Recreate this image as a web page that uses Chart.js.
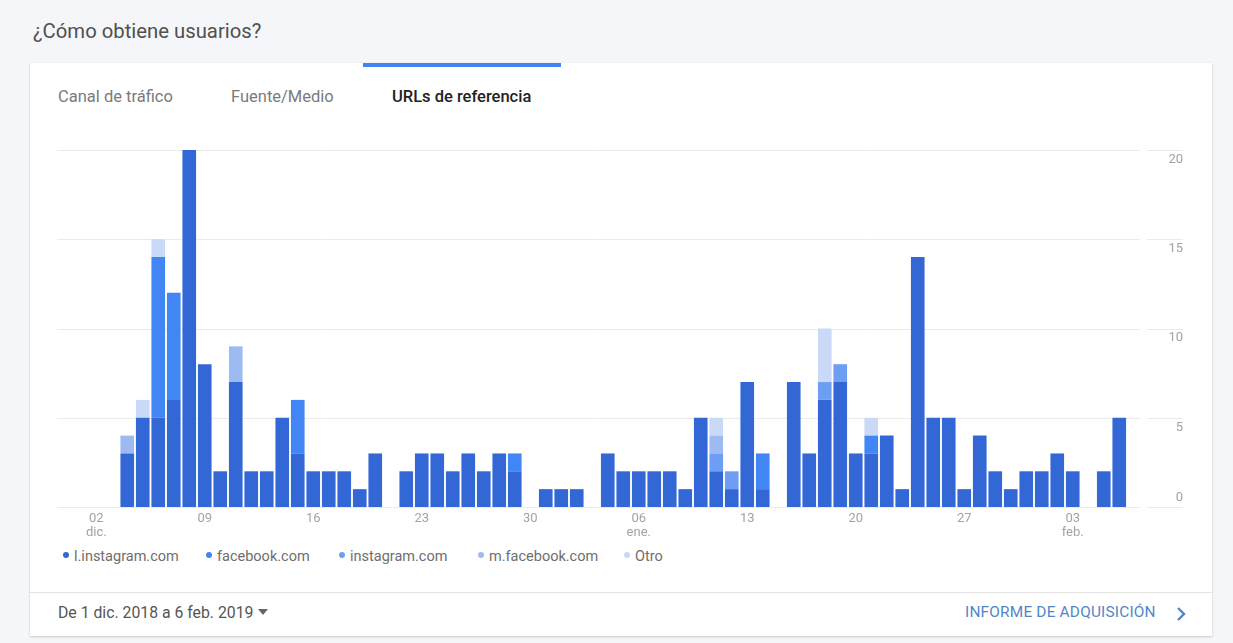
<!DOCTYPE html>
<html lang="es">
<head>
<meta charset="utf-8">
<title>¿Cómo obtiene usuarios?</title>
<script src="https://cdn.jsdelivr.net/npm/chart.js@4/dist/chart.umd.min.js"></script>
<style>
    html,body{margin:0;padding:0;}
    body{width:1233px;height:643px;background:#f5f6f9;font-family:Roboto,"Noto Sans",Arial,sans-serif;position:relative;overflow:hidden;}
    #titulo{position:absolute;left:33px;top:19px;font-size:20.3px;color:#505050;font-weight:400;}
    #cartao{position:absolute;left:30px;top:63px;width:1182px;height:573px;background:#fff;box-shadow:0 1px 2px rgba(0,0,0,.18),0 0 1px rgba(0,0,0,.08);}
    #indicador{position:absolute;left:333px;top:0;width:198px;height:4px;background:#4285f4;}
    .aba{position:absolute;top:24px;font-size:16.5px;color:#7a7a7a;}
    .aba.ativa{color:#222;font-weight:500;}
    #legenda{position:absolute;left:0;top:485px;width:100%;height:20px;font-size:14.5px;color:#6e6e6e;}
    #legenda span{position:absolute;top:0;white-space:nowrap;}
    #legenda i{display:inline-block;width:6px;height:6px;border-radius:50%;margin-right:5px;vertical-align:3px;}
    #divisor{position:absolute;left:0;top:529px;width:100%;height:1px;background:#e4e4e4;}
    #periodo{position:absolute;left:28px;top:540px;font-size:15.8px;color:#555;}
    #periodo b{display:inline-block;width:0;height:0;border-left:5px solid transparent;border-right:5px solid transparent;border-top:6px solid #666;margin-left:5px;vertical-align:3px;}
    #informe{position:absolute;left:935px;top:540px;font-size:15.4px;color:#5187c9;letter-spacing:.2px;}
    #seta{position:absolute;left:1145px;top:543px;}
    #grafico{position:absolute;left:0;top:0;pointer-events:none;}
</style>
</head>
<body>
<div id="titulo">¿Cómo obtiene usuarios?</div>
<div id="cartao">
    <div id="indicador"></div>
    <div class="aba" style="left:28px">Canal de tráfico</div>
    <div class="aba" style="left:201px">Fuente/Medio</div>
    <div class="aba ativa" style="left:362px">URLs de referencia</div>
    <div id="legenda"></div>
    <div id="divisor"></div>
    <div id="periodo">De 1 dic. 2018 a 6 feb. 2019<b></b></div>
    <div id="informe">INFORME DE ADQUISICIÓN</div>
    <svg id="seta" width="12" height="16" viewBox="0 0 12 16"><polyline points="3,2 9,8 3,14" fill="none" stroke="#5187c9" stroke-width="2.4"/></svg>
</div>
<canvas id="grafico" width="1233" height="643"></canvas>
<script>
// dias de 1 dic. 2018 a 6 feb. 2019
var dias=[
    '01','02','03','04','05','06','07','08','09','10','11','12','13','14','15','16','17','18','19','20',
    '21','22','23','24','25','26','27','28','29','30','31',
    '01','02','03','04','05','06','07','08','09','10','11','12','13','14','15','16','17','18','19','20',
    '21','22','23','24','25','26','27','28','29','30','31',
    '01','02','03','04','05','06'
];
var meses={0:'dic.',31:'ene.',62:'feb.'};
var diasComRotulo=[1,8,15,22,29,36,43,50,57,64];

var lInstagram=[0,0,0,3,5,5,6,20,8,2, 7,2,2,5,3,2,2,2,1,3, 0,2,3,3,2,3,2,3,2,0,1,
    1,1,0,3,2,2,2,2,1,5, 2,1,7,1,0,7,3,6,7,3, 3,4,1,14,5,5,1,4,2,1,2,
    2,3,2,0,2,5];
var facebookCom=[0,0,0,0,0,9,6,0,0,0, 0,0,0,0,3,0,0,0,0,0, 0,0,0,0,0,0,0,0,1,0,0,
    0,0,0,0,0,0,0,0,0,0, 0,0,0,2,0,0,0,0,0,0, 1,0,0,0,0,0,0,0,0,0,0,
    0,0,0,0,0,0];
var instagramCom=[0,0,0,0,0,0,0,0,0,0, 0,0,0,0,0,0,0,0,0,0, 0,0,0,0,0,0,0,0,0,0,0,
    0,0,0,0,0,0,0,0,0,0, 1,1,0,0,0,0,0,1,1,0, 0,0,0,0,0,0,0,0,0,0,0,
    0,0,0,0,0,0];
var mFacebook=[0,0,0,1,0,0,0,0,0,0, 2,0,0,0,0,0,0,0,0,0, 0,0,0,0,0,0,0,0,0,0,0,
    0,0,0,0,0,0,0,0,0,0, 1,0,0,0,0,0,0,0,0,0, 0,0,0,0,0,0,0,0,0,0,0,
    0,0,0,0,0,0];
var otro=[0,0,0,0,1,1,0,0,0,0, 0,0,0,0,0,0,0,0,0,0, 0,0,0,0,0,0,0,0,0,0,0,
    0,0,0,0,0,0,0,0,0,0, 1,0,0,0,0,0,0,3,0,0, 1,0,0,0,0,0,0,0,0,0,0,
    0,0,0,0,0,0];

var nomesSeries=['l.instagram.com','facebook.com','instagram.com','m.facebook.com','Otro'];
var coresSeries=['#3367d6','#4285f4','#6e9ef3','#9dbaf1','#c9d9f7'];
var valoresY=[0,5,10,15,20];

var corTexto='#a3a3a3';

// linhas de grade e rotulos no estilo do Analytics
var gradeAnalytics={
    id:'gradeAnalytics',
    beforeDatasetsDraw:function(chart){
        var ctx=chart.ctx,eixoY=chart.scales.y,area=chart.chartArea;
        ctx.save();
        ctx.strokeStyle='#ebebeb';
        ctx.lineWidth=1;
        for (let i = 0; i < valoresY.length; i++) {
            var py=Math.round(eixoY.getPixelForValue(valoresY[i]))+0.5;
            ctx.beginPath();
            ctx.moveTo(area.left-16,py);
            ctx.lineTo(area.right+13,py);
            ctx.moveTo(area.right+20,py);
            ctx.lineTo(area.right+56,py);
            ctx.stroke();
        }
        ctx.restore();
    },
    afterDraw:function(chart){
        var ctx=chart.ctx,eixoY=chart.scales.y,eixoX=chart.scales.x,area=chart.chartArea;
        ctx.save();
        ctx.font='13px Roboto, "Noto Sans", sans-serif';
        ctx.fillStyle=corTexto;
        ctx.textAlign='right';
        ctx.textBaseline='middle';
        for (let i = 0; i < valoresY.length; i++) {
            var py=eixoY.getPixelForValue(valoresY[i]);
            var desl=valoresY[i]==0?-9.5:9.5;
            ctx.fillText(String(valoresY[i]),area.right+56,py+desl);
        }
        ctx.textAlign='center';
        for (let i = 0; i < diasComRotulo.length; i++) {
            var idx=diasComRotulo[i];
            var px=eixoX.getPixelForValue(idx);
            ctx.fillText(dias[idx],px,area.bottom+12);
            var mes=null;
            if(idx<7) mes=meses[0];
            else if(idx>=31 && idx-31<7) mes=meses[31];
            else if(idx>=62) mes=meses[62];
            if(mes!=null){
                ctx.fillText(mes,px,area.bottom+26);
            }
        }
        ctx.restore();
    }
};

function montaLegenda(){
    var legenda=document.getElementById('legenda');
    var posicoes=[33,176,309,448,594];
    for (let i = 0; i < nomesSeries.length; i++) {
        var item=document.createElement('span');
        item.style.left=posicoes[i]+'px';
        item.innerHTML='<i style="background:'+coresSeries[i]+'"></i>'+nomesSeries[i];
        legenda.appendChild(item);
    }
}

window.addEventListener("load", function (){
    montaLegenda();
    var series=[lInstagram,facebookCom,instagramCom,mFacebook,otro];
    var datasets=[];
    for (let i = 0; i < series.length; i++) {
        datasets.push({
            label:nomesSeries[i],
            data:series[i],
            backgroundColor:coresSeries[i],
            borderWidth:0,
            categoryPercentage:1,
            barPercentage:0.88
        });
    }
    new Chart(document.getElementById('grafico'),{
        type:'bar',
        data:{labels:dias,datasets:datasets},
        options:{
            responsive:false,
            animation:false,
            layout:{padding:{left:73,right:106,top:150,bottom:136}},
            plugins:{legend:{display:false},tooltip:{enabled:false}},
            scales:{
                x:{stacked:true,display:false,offset:true},
                y:{stacked:true,display:false,min:0,max:20}
            }
        },
        plugins:[gradeAnalytics]
    });
});
</script>
</body>
</html>
